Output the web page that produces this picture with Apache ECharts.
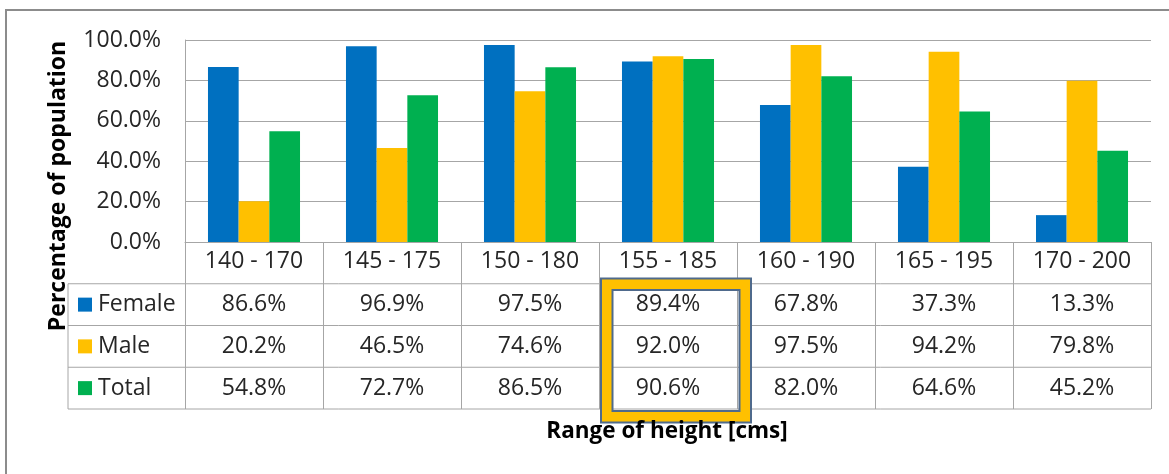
<!DOCTYPE html>
<html>
<head>
<meta charset="utf-8">
<script src="https://cdn.jsdelivr.net/npm/echarts@6/dist/echarts.min.js"></script>
<style>
  html, body { margin: 0; padding: 0; background: #ffffff; }
  #chart { width: 1169px; height: 474px; }
</style>
</head>
<body>
<div id="chart"></div>
<script>
// Height ranges (cm) and share of population within each range
const categories = ['140 - 170', '145 - 175', '150 - 180', '155 - 185', '160 - 190', '165 - 195', '170 - 200'];
const female = [86.6, 96.9, 97.5, 89.4, 67.8, 37.3, 13.3];
const male   = [20.2, 46.5, 74.6, 92.0, 97.5, 94.2, 79.8];
const total  = [54.8, 72.7, 86.5, 90.6, 82.0, 64.6, 45.2];
const seriesNames = ['Female', 'Male', 'Total'];
const seriesColors = ['#0070C0', '#FFC000', '#00B050'];
const highlightIndex = 3;

const FONT = '"Open Sans", "Liberation Sans", sans-serif';
const FS = 23;
const TEXT = '#262626';
const LINE = '#A6A6A6';

const chart = echarts.init(document.getElementById('chart'), null, { renderer: 'canvas' });

const gridTop = 40, gridBottom = 232, gridLeft = 185, gridRight = 18;
const fmt = v => v.toFixed(1) + '%';

chart.setOption({
  animation: false,
  backgroundColor: '#ffffff',
  grid: { left: gridLeft, right: gridRight, top: gridTop, bottom: gridBottom, containLabel: false },
  xAxis: {
    type: 'category',
    data: categories,
    boundaryGap: true,
    axisLine: { show: true, lineStyle: { color: LINE, width: 1 } },
    // ticks run down through the data table as its column rules
    axisTick: { show: true, interval: 0, length: 167, lineStyle: { color: LINE, width: 1 } },
    axisLabel: { show: true, interval: 0, margin: 8, fontSize: FS, fontFamily: FONT, color: TEXT },
    splitLine: { show: false }
  },
  yAxis: {
    type: 'value',
    min: 0, max: 100, interval: 20,
    axisLine: { show: true, lineStyle: { color: LINE, width: 1 } },
    axisTick: { show: false },
    axisLabel: { margin: 24, fontSize: FS, fontFamily: FONT, color: TEXT, formatter: fmt },
    splitLine: { show: true, lineStyle: { color: LINE, width: 1 } }
  },
  series: [female, male, total].map((d, i) => ({
    name: seriesNames[i],
    type: 'bar',
    data: d,
    barGap: '0%',
    barCategoryGap: '33.3%',
    itemStyle: { color: seriesColors[i] }
  }))
});

// Data table, legend keys, titles and frame
function buildGraphics() {
  const W = chart.getWidth();
  const tableLeft = 68;
  const tableRight = W - gridRight;
  const axisY = chart.convertToPixel({ yAxisIndex: 0 }, 0);
  const tableBottom = 409;
  const rowH = (tableBottom - axisY) / 4;
  const rowTops = [1, 2, 3].map(k => axisY + rowH * k);
  const centers = categories.map(c => chart.convertToPixel({ xAxisIndex: 0 }, c));
  const rows = [female, male, total];
  const els = [];

  // outer frame
  els.push({ type: 'rect', shape: { x: 6, y: 10, width: W + 20, height: 600 },
    style: { fill: null, stroke: '#8C8C8C', lineWidth: 2 }, z: 1 });

  // table row rules and left edge of legend column
  rowTops.concat([tableBottom]).forEach(y => {
    els.push({ type: 'line', shape: { x1: tableLeft, y1: y, x2: tableRight, y2: y },
      style: { stroke: LINE, lineWidth: 1 }, z: 5 });
  });
  els.push({ type: 'line', shape: { x1: tableLeft, y1: rowTops[0], x2: tableLeft, y2: tableBottom },
    style: { stroke: LINE, lineWidth: 1 }, z: 5 });

  // highlight around one column of values
  const hc = centers[highlightIndex];
  const outer = { x: hc - 67, y: 278.5, w: 150, h: 144 };
  const band = 11.5;
  els.push({ type: 'rect', shape: { x: outer.x + band / 2, y: outer.y + band / 2, width: outer.w - band, height: outer.h - band },
    style: { fill: null, stroke: '#FFC000', lineWidth: band }, z: 8 });
  els.push({ type: 'rect', shape: { x: outer.x, y: outer.y, width: outer.w, height: outer.h },
    style: { fill: null, stroke: '#4F6A8C', lineWidth: 2 }, z: 9 });
  els.push({ type: 'rect', shape: { x: outer.x + band, y: outer.y + band, width: outer.w - 2 * band, height: outer.h - 2 * band },
    style: { fill: null, stroke: '#4F6A8C', lineWidth: 2 }, z: 9 });

  // legend keys and values
  rows.forEach((vals, r) => {
    const cy = rowTops[r] + rowH / 2;
    els.push({ type: 'rect', shape: { x: 78, y: cy - 7, width: 14, height: 14 },
      style: { fill: seriesColors[r] }, z: 10 });
    els.push({ type: 'text', x: 98, y: cy,
      style: { text: seriesNames[r], font: FS + 'px ' + FONT, fill: TEXT, align: 'left', verticalAlign: 'middle' }, z: 10 });
    vals.forEach((v, c) => {
      els.push({ type: 'text', x: centers[c], y: cy,
        style: { text: fmt(v), font: FS + 'px ' + FONT, fill: TEXT, align: 'center', verticalAlign: 'middle' }, z: 10 });
    });
  });

  // axis titles
  els.push({ type: 'text', x: 58, y: 186, rotation: Math.PI / 2,
    style: { text: 'Percentage of population', font: 'bold 23px ' + FONT, fill: '#000000', align: 'center', verticalAlign: 'middle' }, z: 10 });
  els.push({ type: 'text', x: 667, y: 432,
    style: { text: 'Range of height [cms]', font: 'bold 22.5px ' + FONT, fill: '#000000', align: 'center', verticalAlign: 'middle' }, z: 10 });

  chart.setOption({ graphic: { elements: els } });
}
buildGraphics();
</script>
</body>
</html>
